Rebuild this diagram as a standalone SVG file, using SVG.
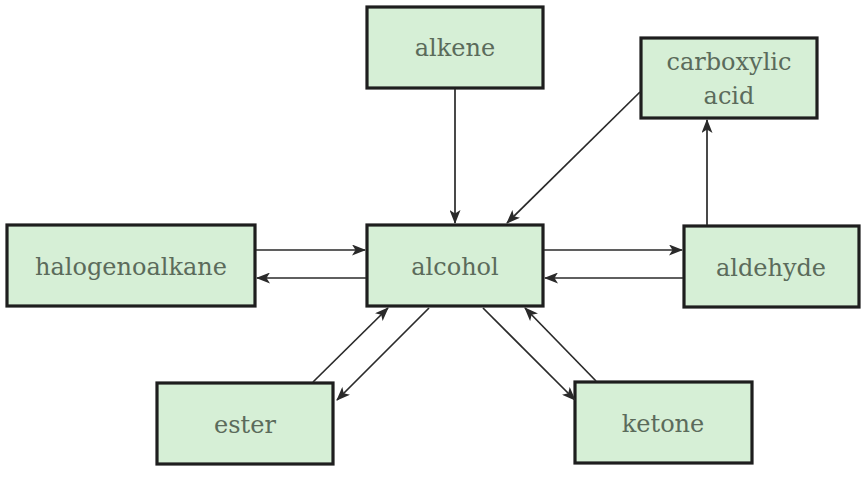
<svg xmlns="http://www.w3.org/2000/svg" width="868" height="480" viewBox="0 0 868 480">
<style>
.box{fill:#d6efd6;stroke:#1e1e1e;stroke-width:3.2}
.lbl{font-family:"DejaVu Serif","Liberation Serif",serif;font-size:24px;fill:#5b6b5b;text-anchor:middle}
.c{stroke:#2a2a2a;stroke-width:1.7;fill:none;marker-end:url(#ah)}
</style>
<defs>
<marker id="ah" viewBox="0 0 14 11" refX="13" refY="5.5" markerWidth="14" markerHeight="11" markerUnits="userSpaceOnUse" orient="auto">
<path d="M0,0 L14,5.5 L0,11 L3.5,5.5 Z" fill="#2a2a2a"/>
</marker>
</defs>
<rect width="868" height="480" fill="#ffffff"/>
<g id="alkene"><rect class="box" x="367" y="7" width="176" height="81"/><text class="lbl" x="455" y="56">alkene</text></g>
<g id="carboxylic-acid"><rect class="box" x="641" y="38" width="176" height="80"/><text class="lbl" x="729" y="70">carboxylic</text><text class="lbl" x="729" y="104">acid</text></g>
<g id="halogenoalkane"><rect class="box" x="7" y="225" width="248" height="81"/><text class="lbl" x="131" y="275">halogenoalkane</text></g>
<g id="alcohol"><rect class="box" x="367" y="225" width="176" height="81"/><text class="lbl" x="455" y="275">alcohol</text></g>
<g id="aldehyde"><rect class="box" x="684" y="226" width="175" height="81"/><text class="lbl" x="771" y="276">aldehyde</text></g>
<g id="ester"><rect class="box" x="157" y="383" width="176" height="81"/><text class="lbl" x="245" y="433">ester</text></g>
<g id="ketone"><rect class="box" x="575" y="382" width="177" height="81"/><text class="lbl" x="663" y="432">ketone</text></g>
<g id="connectors">
<line class="c" x1="455" y1="89" x2="455" y2="223"/>
<line class="c" x1="640" y1="92" x2="507" y2="223"/>
<line class="c" x1="707" y1="225" x2="707" y2="120"/>
<line class="c" x1="256" y1="250" x2="365" y2="250"/>
<line class="c" x1="366" y1="278" x2="257" y2="278"/>
<line class="c" x1="544" y1="250" x2="682" y2="250"/>
<line class="c" x1="683" y1="278" x2="545" y2="278"/>
<line class="c" x1="313" y1="382" x2="388" y2="308"/>
<line class="c" x1="429" y1="308" x2="337" y2="400"/>
<line class="c" x1="483" y1="308" x2="575" y2="400"/>
<line class="c" x1="596" y1="381" x2="525" y2="308"/>
</g>
</svg>
